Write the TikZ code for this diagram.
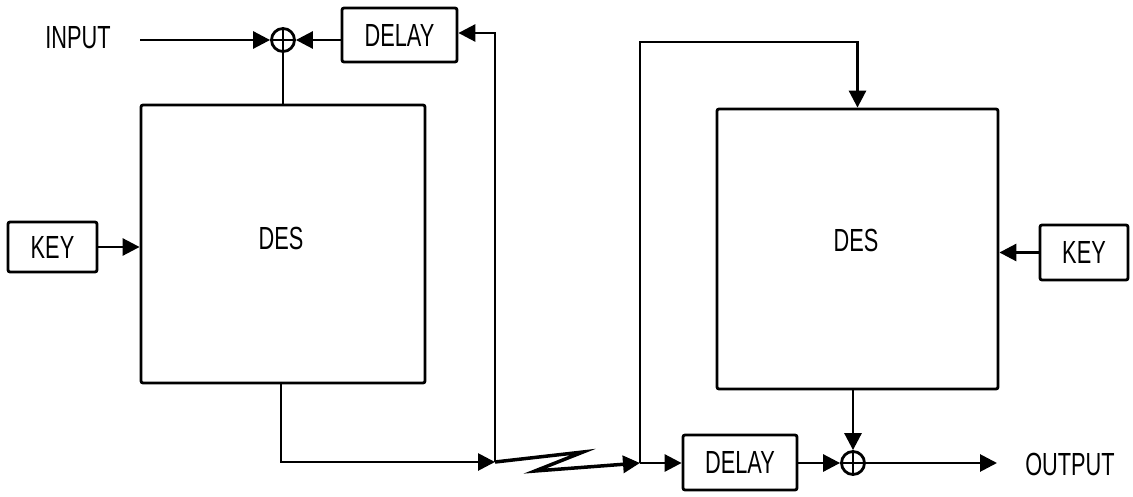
\documentclass[tikz,border=0pt]{standalone}
\usepackage{fontspec}
\usepackage{graphicx}
\setmainfont{Liberation Sans}
\usetikzlibrary{arrows.meta}
\newcommand{\lbl}[1]{\scalebox{0.68}[1]{#1}}
\begin{document}
\begin{tikzpicture}[x=1pt,y=-1pt,
  line width=2.8pt, line join=miter,
  txt/.style={font=\fontsize{32}{32}\selectfont, inner sep=0pt},
  blk/.style={draw, rounded corners=2pt, inner sep=0pt, font=\fontsize{32}{32}\selectfont},
  xorc/.style={draw, circle, minimum size=23pt, inner sep=0pt,
     path picture={\draw[line width=2.8pt] (path picture bounding box.north) -- (path picture bounding box.south)
       (path picture bounding box.west) -- (path picture bounding box.east);}},
  arr/.style={-{Triangle[length=17pt,width=17pt]}}]
\useasboundingbox (0,0) rectangle (1133,497);
% blocks
\node[blk, minimum width=284pt, minimum height=278pt] (des1) at (283,244) {};
\node[txt] (des1t) at (281,238) {\lbl{DES}};
\node[blk, minimum width=281pt, minimum height=280pt] (des2) at (857.5,249) {};
\node[txt] (des2t) at (856,240) {\lbl{DES}};
\node[blk, minimum width=89pt, minimum height=50pt] (key1) at (52.5,247) {\lbl{KEY}};
\node[blk, minimum width=88pt, minimum height=55pt] (key2) at (1084,252.5) {\lbl{KEY}};
\node[blk, minimum width=115pt, minimum height=54pt] (delay1) at (399.5,35) {\lbl{DELAY}};
\node[blk, minimum width=114pt, minimum height=55pt] (delay2) at (740,462.5) {\lbl{DELAY}};
\node[xorc] (xor1) at (283,40) {};
\node[xorc] (xor2) at (853,463) {};
\node[txt] (in) at (78,38) {\lbl{INPUT}};
\node[txt] (out) at (1070,464) {\lbl{OUTPUT}};
% junctions
\coordinate (j1) at (495,462);
\coordinate (j2) at (640,463);
\coordinate (z1) at (583,452);
\coordinate (z2) at (535,471);
\coordinate (inS) at (140,40);
\coordinate (outE) at (997,463);
% connectors
\draw[arr] (inS) -- (xor1.west);
\draw[arr] (delay1.west |- xor1) -- (xor1.east);
\draw (xor1.south) -- (des1.north -| xor1);
\draw[arr] (key1.east) -- (key1.east -| des1.west);
\draw[arr] (des1.south -| 281,0) -- (281,462) -- (j1);
\draw[arr] (j1) -- (495,33) -- (delay1.east |- 0,33);
\draw[arr, line width=3.5pt] (j1) -- (z1) -- (z2) -- (j2);
\draw[arr] (j2) -- (delay2.west |- j2);
\draw[arr] (j2) -- (640,42) -- (des2.north |- 0,42) -- (des2.north);
\draw[arr] (delay2.east |- xor2) -- (xor2.west);
\draw[arr] (des2.south -| xor2) -- (xor2.north);
\draw[arr] (xor2.east) -- (outE);
\draw[arr] (key2.west) -- (key2.west -| des2.east);
\end{tikzpicture}
\end{document}
